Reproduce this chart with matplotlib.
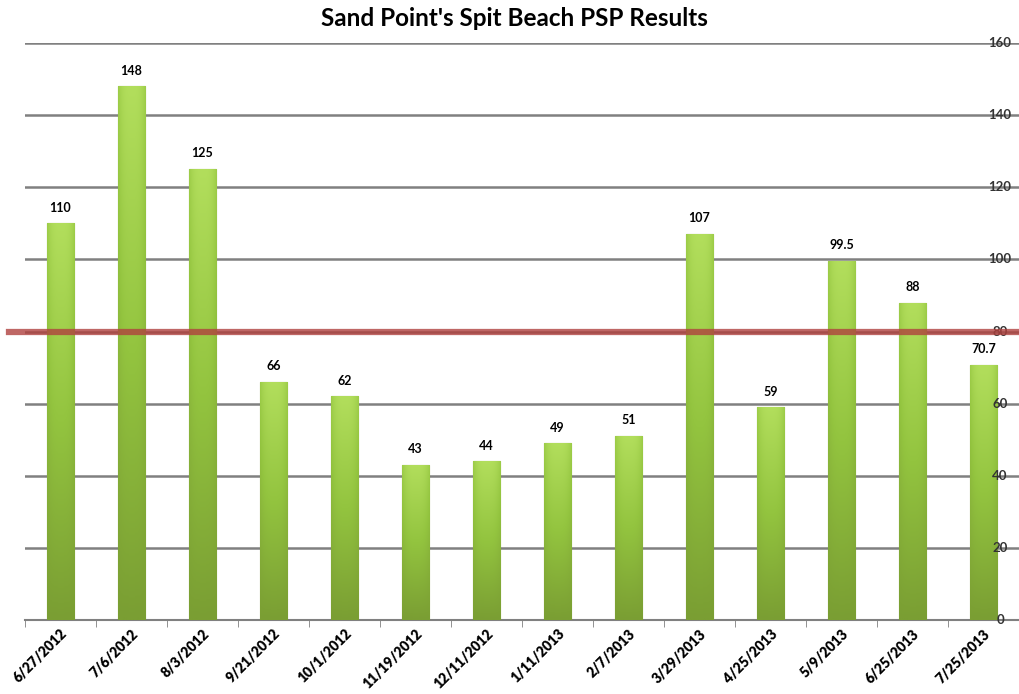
import matplotlib.pyplot as plt
import numpy as np
from matplotlib.colors import LinearSegmentedColormap

# sample dates and PSP results
dates = ['6/27/2012', '7/6/2012', '8/3/2012', '9/21/2012', '10/1/2012',
         '11/19/2012', '12/11/2012', '1/11/2013', '2/7/2013', '3/29/2013',
         '4/25/2013', '5/9/2013', '6/25/2013', '7/25/2013']
values = [110, 148, 125, 66, 62, 43, 44, 49, 51, 107, 59, 99.5, 88, 70.7]
value_labels = ['110', '148', '125', '66', '62', '43', '44', '49', '51',
                '107', '59', '99.5', '88', '70.7']
yticks = [0, 20, 40, 60, 80, 100, 120, 140, 160]
limit = 80

plt.rcParams['font.family'] = ['Lato', 'DejaVu Sans']

fig = plt.figure(figsize=(10.19, 6.94), dpi=100)
ax = fig.add_axes([25 / 1019, 74 / 694, 994 / 1019, 577 / 694])

x = np.arange(len(dates))
bars = ax.bar(x, values, width=0.39, color='#8fbf3e', edgecolor='#6e8f2c',
              linewidth=0.8, zorder=3)

# vertical gradient inside each bar, light top to darker bottom
cmap = LinearSegmentedColormap.from_list('g', ['#7a9e33', '#93c43f', '#b2de5c'])
grad = np.linspace(0, 1, 256).reshape(-1, 1)
side = 1 - 0.35 * np.abs(np.linspace(-1, 1, 64)) ** 3
img = grad * side[None, :]
for b in bars:
    x0, w, h = b.get_x(), b.get_width(), b.get_height()
    im = ax.imshow(img, cmap=cmap, vmin=0, vmax=1, origin='lower', aspect='auto',
                   extent=[x0, x0 + w, 0, h], zorder=3.1)
    im.set_clip_path(b)

for xi, v, lab in zip(x, values, value_labels):
    ax.annotate(lab, (xi, v), xytext=(0, 7), textcoords='offset points',
                ha='center', va='bottom', fontsize=9, fontweight='bold', zorder=5)

ax.axhline(limit, xmin=-0.016, xmax=1, color='#b0413e', alpha=0.8,
           linewidth=4.5, zorder=4, clip_on=False)

ax.set_xlim(-0.5, len(dates) - 0.5)
ax.set_ylim(0, 160)
ax.set_yticks(yticks)
ax.yaxis.grid(True, color='#808080', linewidth=1.8, zorder=0)
ax.set_axisbelow(True)
ax.tick_params(axis='y', left=False, labelleft=False)

# value axis labels sit inside the plot on the right, over the gridlines
for yv in yticks:
    ax.text(0.981, yv, str(yv), transform=ax.get_yaxis_transform(),
            ha='center', va='center', fontsize=9.5, fontweight='bold',
            color='#333333', zorder=3.5)

ax.set_xticks(x)
ax.set_xticks(np.arange(-0.5, len(dates), 1), minor=True)
ax.set_xticklabels(dates, rotation=45, ha='right', rotation_mode='anchor',
                   fontsize=10, fontweight='heavy')
ax.tick_params(axis='x', which='major', length=0, pad=5)
ax.tick_params(axis='x', which='minor', length=5, color='#808080')

for s in ['top', 'left', 'right']:
    ax.spines[s].set_visible(False)
ax.spines['bottom'].set_color('#808080')
ax.spines['bottom'].set_linewidth(1.5)

fig.text(0.505, 0.974, "Sand Point's Spit Beach PSP Results", ha='center',
         va='center', fontsize=17.5, fontweight='bold')

fig.savefig('out.png', dpi=100)
